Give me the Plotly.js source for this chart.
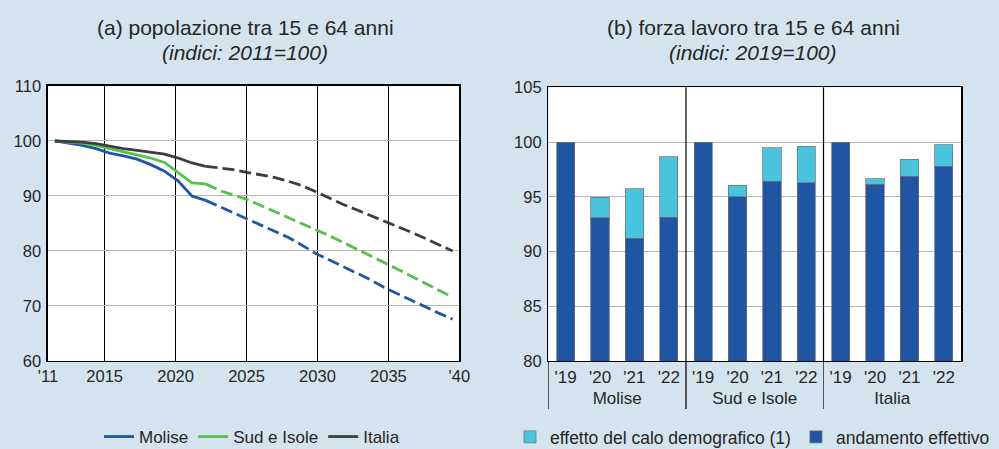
<!DOCTYPE html>
<html><head><meta charset="utf-8">
<script src="https://cdn.plot.ly/plotly-3.0.1.min.js"></script>
<style>html,body{margin:0;padding:0;background:#d3e4ee;} #chart{width:999px;height:449px;}</style>
</head><body><div id="chart"></div>
<script>
// ---- Panel (a): popolazione tra 15 e 64 anni (indici 2011=100)
const years = [2011,2012,2013,2014,2015,2016,2017,2018,2019,2020,
               2021,2022,2023,2024,2025,2026,2027,2028,2029,2030,
               2031,2032,2033,2034,2035,2036,2037,2038,2039,2040];
const molise   = [100,99.6,99.2,98.6,97.8,97.3,96.7,95.7,94.5,92.7,
                  90.0,89.2,88.1,87.0,85.8,84.8,83.7,82.5,81.1,79.6,
                  78.4,77.2,76.0,74.8,73.4,72.2,71.1,69.9,68.7,67.6];
const sudIsole = [100,99.8,99.6,99.2,98.6,98.1,97.5,96.9,96.1,94.3,
                  92.4,92.2,91.0,90.2,89.4,88.3,87.2,86.1,85.0,84.0,
                  82.8,81.6,80.4,79.2,78.0,76.7,75.4,74.1,72.8,71.6];
const italia   = [100,99.9,99.8,99.5,99.0,98.6,98.3,98.0,97.6,96.9,
                  96.0,95.4,95.1,94.8,94.3,93.9,93.4,92.7,91.9,90.8,
                  89.6,88.5,87.5,86.5,85.5,84.4,83.4,82.3,81.1,80.0];
const lastObservedYear = 2022;
const xTickVals = [2011,2015,2020,2025,2030,2035,2040];
const xTickText = ["'11","2015","2020","2025","2030","2035","'40"];

// ---- Panel (b): forza lavoro tra 15 e 64 anni (indici 2019=100)
const regions = ['Molise','Sud e Isole','Italia'];
const barYears = ["'19","'20","'21","'22"];
const andamentoEffettivo = [100,93.1,91.2,93.15, 100,95.0,96.4,96.3, 100,96.15,96.9,97.8];
const caloDemografico    = [0,1.85,4.55,5.5,     0,1.05,3.1,3.3,    0,0.5,1.55,1.95];

// annual points are centred in yearly slots spread over the 2011–2040 axis
const xPos = years.map(y => 2011 + (y - 2011 + 0.5) * 29 / 30);

const FONT = 'Liberation Sans, Arial, sans-serif';
const TXT = '#262626';
const series = [
  {name:'Molise', vals:molise, color:'#1f56a6'},
  {name:'Sud e Isole', vals:sudIsole, color:'#55c04b'},
  {name:'Italia', vals:italia, color:'#3d3d3d'}
];
const traces = [];
series.forEach(s => {
  const idx = years.map((y,i)=>i);
  const solidIdx = idx.filter(i => years[i] <= lastObservedYear);
  const dashIdx = idx.filter(i => years[i] >= lastObservedYear);
  traces.push({type:'scatter', mode:'lines', name:s.name, legend:'legend',
    x: solidIdx.map(i=>xPos[i]), y: solidIdx.map(i=>s.vals[i]),
    line:{color:s.color, width:2.8}, xaxis:'x', yaxis:'y'});
  traces.push({type:'scatter', mode:'lines', name:s.name, showlegend:false,
    x: dashIdx.map(i=>xPos[i]), y: dashIdx.map(i=>s.vals[i]),
    line:{color:s.color, width:2.8, dash:'12px,5px'}, xaxis:'x', yaxis:'y'});
});

const grpX = [[], []];
regions.forEach(r => barYears.forEach(b => { grpX[0].push(r); grpX[1].push(b); }));

traces.push({type:'bar', name:'andamento effettivo', legend:'legend2', legendrank:2,
  x: grpX, y: andamentoEffettivo, xaxis:'x2', yaxis:'y3',
  marker:{color:'#1f55a3', line:{color:'rgba(110,110,110,0.7)', width:1}}});
traces.push({type:'bar', name:'effetto del calo demografico (1)', legend:'legend2', legendrank:1,
  x: grpX, y: caloDemografico, xaxis:'x2', yaxis:'y3',
  marker:{color:'#48c4de', line:{color:'rgba(110,110,110,0.7)', width:1}}});

const tickF = {family:FONT, size:16.5, color:TXT};
const layout = {
  width:999, height:449,
  margin:{l:0,r:0,t:0,b:0, autoexpand:false},
  paper_bgcolor:'#d3e4ee', plot_bgcolor:'#ffffff',
  font:{family:FONT, color:TXT},
  barmode:'stack', bargap:0.47,
  xaxis:{domain:[0.048,0.4598], range:[2011,2040], tickvals:xTickVals, ticktext:xTickText,
    showgrid:true, gridcolor:'#000', gridwidth:1, zeroline:false,
    showline:true, linecolor:'#000', linewidth:1.5, mirror:true, ticks:'', tickfont:tickF, anchor:'y'},
  yaxis:{domain:[0.196,0.8085], range:[60,110], dtick:10, tickfont:tickF, ticklabelstandoff:2,
    showgrid:true, gridcolor:'#b5b5b5', zeroline:false,
    showline:true, linecolor:'#000', linewidth:1.5, mirror:true, ticks:'', anchor:'x'},
  yaxis2:{overlaying:'y', side:'right', anchor:'x', range:[60,110], dtick:10, tickfont:tickF, ticklabelstandoff:2,
    showgrid:false, zeroline:false, ticks:''},
  xaxis2:{domain:[0.549,0.962], type:'multicategory', anchor:'y3', tickfont:{family:FONT, size:17, color:TXT},
    showline:true, linecolor:'#000', linewidth:1.5, mirror:true, ticks:'',
    showgrid:false, showdividers:true, dividercolor:'#555', dividerwidth:1.2},
  yaxis3:{domain:[0.196,0.8055], range:[80,105], dtick:5, tickfont:tickF, anchor:'x2', ticklabelstandoff:2,
    showgrid:true, gridcolor:'#b5b5b5', zeroline:false,
    showline:true, linecolor:'#000', linewidth:1.5, mirror:true, ticks:''},
  yaxis4:{overlaying:'y3', side:'right', anchor:'x2', range:[80,105], dtick:5, tickfont:tickF, ticklabelstandoff:2,
    showgrid:false, zeroline:false, ticks:''},
  shapes:[
    {type:'line', xref:'x2 domain', yref:'y3 domain', x0:1/3, x1:1/3, y0:0, y1:1, line:{color:'#000', width:1.2}},
    {type:'line', xref:'x2 domain', yref:'y3 domain', x0:2/3, x1:2/3, y0:0, y1:1, line:{color:'#000', width:1.2}}
  ],
  annotations:[
    {xref:'paper', yref:'paper', x:245/999, y:1-27.5/449, xanchor:'center', yanchor:'middle', showarrow:false,
     text:'(a) popolazione tra 15 e 64 anni', font:{family:FONT, size:21, color:TXT}},
    {xref:'paper', yref:'paper', x:245/999, y:1-52.5/449, xanchor:'center', yanchor:'middle', showarrow:false,
     text:'<i>(indici: 2011=100)</i>', font:{family:FONT, size:21, color:TXT}},
    {xref:'paper', yref:'paper', x:753/999, y:1-27.5/449, xanchor:'center', yanchor:'middle', showarrow:false,
     text:'(b) forza lavoro tra 15 e 64 anni', font:{family:FONT, size:21, color:TXT}},
    {xref:'paper', yref:'paper', x:753/999, y:1-52.5/449, xanchor:'center', yanchor:'middle', showarrow:false,
     text:'<i>(indici: 2019=100)</i>', font:{family:FONT, size:21, color:TXT}}
  ],
  legend:{orientation:'h', x:252/999, xanchor:'center', y:1-437/449, yanchor:'middle',
    bgcolor:'rgba(0,0,0,0)', font:{family:FONT, size:17, color:TXT}},
  legend2:{orientation:'h', x:510/999, xanchor:'left', y:1-437/449, yanchor:'middle',
    bgcolor:'rgba(0,0,0,0)', font:{family:FONT, size:17.5, color:TXT}, traceorder:'normal'}
};
Plotly.newPlot('chart', traces, layout, {staticPlot:true});
</script></body></html>
